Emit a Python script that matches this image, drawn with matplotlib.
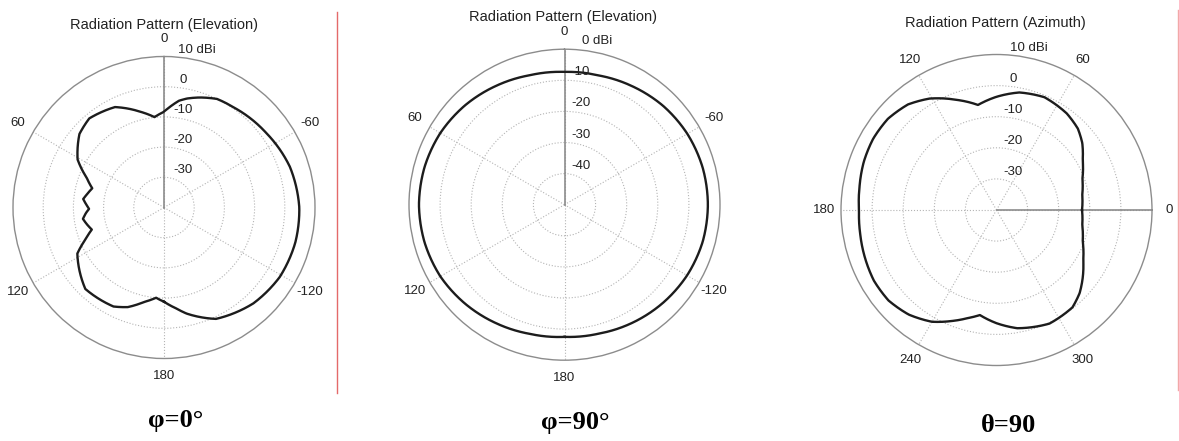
import numpy as np
import matplotlib
matplotlib.use('Agg')
import matplotlib.pyplot as plt
import matplotlib.transforms as mtransforms
from matplotlib.lines import Line2D

# ---------------- data: angle (deg), gain (dBi) ----------------
# phi=0 elevation cut, angle counted counter-clockwise from the top
elev0_ang = [-180, -173, -168, -155, -137, -121, -105, -90, -72, -54, -35, -26, -18, -12, -8,
             0, 6, 14, 26, 40, 49, 61, 69, 75, 80, 84, 88, 91, 94, 98, 102, 107, 112, 118, 136, 153, 160, 168, 175, 180]
elev0_gain = [-8.8, -6.3, -4.1, 0.7, 3.4, 4.7, 5.0, 4.8, 3.8, 1.9, 0.4, 0.0, -1.7, -3.1, -4.3,
              -8.3, -9.9, -7.3, -3.0, -1.5, -2.9, -7.3, -12.6, -15.4, -14.2, -13.1, -14.3, -15.2, -14.1, -12.9, -13.8, -15.0, -12.0, -7.5,
              -2.5, -3.2, -4.9, -8.0, -10.0, -8.8]

# phi=90 elevation cut
elev90_ang = [-180, -165, -150, -135, -120, -105, -90, -75, -60, -45, -30, -15,
              0, 15, 30, 45, 60, 75, 90, 105, 120, 135, 150, 165, 180]
elev90_gain = [-7.5, -7.1, -6.2, -5.3, -4.5, -4.0, -3.9, -4.0, -4.4, -5.1, -6.1, -7.0,
               -7.3, -6.9, -5.9, -4.8, -3.9, -3.4, -3.2, -3.4, -3.9, -4.9, -6.0, -7.0, -7.5]

# theta=90 azimuth cut, angle counted counter-clockwise from the right
azi_ang = [0, 10, 20, 30, 38, 45, 54, 67, 79, 90, 100, 110, 121, 130, 140, 150, 160, 170, 180,
           190, 200, 210, 220, 230, 240, 248, 255, 261, 270, 280, 295, 308, 315, 322, 330, 340, 350, 360]
azi_gain = [-12.5, -12.0, -10.6, -8.0, -5.0, -3.0, -1.6, -0.6, -1.5, -3.6, -5.7, -2.3, 1.8, 4.3, 5.6, 5.8, 5.4, 4.7, 4.2,
            4.5, 5.0, 5.5, 5.3, 3.9, 1.5, -1.5, -4.0, -5.8, -3.6, -1.4, 0.3, -0.3, -2.2, -4.8, -7.8, -10.5, -12.0, -12.5]

titles = ['Radiation Pattern (Elevation)', 'Radiation Pattern (Elevation)', 'Radiation Pattern (Azimuth)']
cut_names = ['φ=0°', 'φ=90°', 'θ=90']
theta_ticks = [0, 60, 120, 180, 240, 300]
elev_ticklabels = ['0', '60', '120', '180', '-120', '-60']
azi_ticklabels = ['0', '60', '120', '180', '240', '300']
rings_a = [-30, -20, -10, 0]     # scale -40 .. 10 dBi
rings_b = [-40, -30, -20, -10]   # scale -50 .. 0 dBi

plt.rcParams['font.family'] = ['Liberation Sans', 'DejaVu Sans']

W, H = 1179, 441
fig = plt.figure(figsize=(W / 100, H / 100), dpi=100)


def polar_panel(cx, cy, R, ang, gain, rmin, rmax, rings, zero, ticklabels, lab_theta, lab_dx, top_dx, lab_dy):
    ax = fig.add_axes([(cx - R) / W, (H - cy - R) / H, 2 * R / W, 2 * R / H], projection='polar')
    ax.set_theta_zero_location(zero)
    ax.set_theta_direction(1)
    ln, = ax.plot(np.deg2rad(ang), gain, color='#1c1c1c', lw=1.7, zorder=3)
    # let the polar transform follow the curve between the read points
    ln.get_path()._interpolation_steps = 40
    ax.set_ylim(rmin, rmax)
    ax.set_yticks(rings)
    ax.set_yticklabels([])
    ax.set_xticks(np.deg2rad(theta_ticks))
    ax.set_xticklabels(ticklabels)
    ax.tick_params(axis='x', pad=5.5, labelsize=9.5, labelcolor='#222222', length=0)
    ax.tick_params(axis='y', length=0)
    ax.grid(True, ls=':', color='#b4b4b4', lw=0.8)
    ax.spines['polar'].set_color('#8c8c8c')
    ax.spines['polar'].set_linewidth(1.0)
    # solid reference radial
    ax.plot([0, 0], [rmin, rmax], color='#8c8c8c', lw=1.2, zorder=2)
    # ring labels
    tr = mtransforms.offset_copy(ax.transData, fig=fig, x=lab_dx, y=lab_dy, units='dots')
    for v in rings:
        if v > rmin:
            ax.text(np.deg2rad(lab_theta), v, '%d' % v, transform=tr, ha='center', va='center',
                    fontsize=9.5, color='#222222')
    tr2 = mtransforms.offset_copy(ax.transData, fig=fig, x=top_dx, y=lab_dy, units='dots')
    ax.text(np.deg2rad(lab_theta), rmax, '%d dBi' % rmax, transform=tr2, ha='left', va='center',
            fontsize=9.5, color='#222222', clip_on=False)
    return ax


polar_panel(164, 207.5, 151, elev0_ang, elev0_gain, -40, 10, rings_a, 'N', elev_ticklabels, 0, 19, 14, 7)
polar_panel(564.5, 204.7, 155.5, elev90_ang, elev90_gain, -50, 0, rings_b, 'N', elev_ticklabels, 0, 16, 17, 8)
polar_panel(996.5, 210, 155.5, azi_ang, azi_gain, -40, 10, rings_a, 'E', azi_ticklabels, 90, 17, 13, 7)

# titles and cut names
for (x, y), t in zip([(164, 25), (563, 17), (995, 23)], titles):
    fig.text(x / W, 1 - y / H, t, ha='center', va='center', fontsize=10.5, color='#222222')
for (x, y), t in zip([(176, 421), (575, 423), (1008, 425)], cut_names):
    fig.text(x / W, 1 - y / H, t, ha='center', va='center', fontsize=19,
             family=['Liberation Serif', 'DejaVu Serif'], weight='bold')

# thin red separators
fig.add_artist(Line2D([337 / W, 337 / W], [1 - 12 / H, 1 - 393 / H], color='#e46a6a', lw=1.0))
fig.add_artist(Line2D([1177.5 / W, 1177.5 / W], [1 - 10 / H, 1 - 390 / H], color='#f2a8a8', lw=1.0))

fig.savefig('out.png', dpi=100)
